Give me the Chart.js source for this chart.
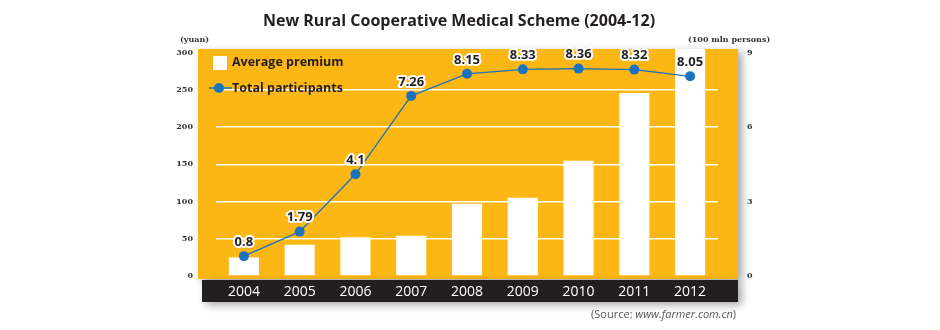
<!DOCTYPE html>
<html><head><meta charset="utf-8">
<script src="https://cdn.jsdelivr.net/npm/chart.js@4/dist/chart.umd.min.js"></script>
<style>html,body{margin:0;padding:0;background:#fff}#wrap{width:940px;height:330px}</style>
</head><body><div id="wrap"><canvas id="c" width="940" height="330"></canvas></div>
<script>
const titleText = 'New Rural Cooperative Medical Scheme (2004-12)';
const years = ['2004','2005','2006','2007','2008','2009','2010','2011','2012'];
const premium = [25, 42, 52, 54, 97, 105, 155, 246, 308];
const participants = [0.8, 1.79, 4.1, 7.26, 8.15, 8.33, 8.36, 8.32, 8.05];
const leftTicks = [0, 50, 100, 150, 200, 250, 300];
const rightTicks = [0, 3, 6, 9];
const leftUnit = '(yuan)';
const rightUnit = '(100 mln persons)';
const sourceParts = ['(Source: ', 'www.farmer.com.cn', ')'];
const seriesNames = ['Average premium', 'Total participants'];

const ORANGE = '#FDB714';
const BLUE = '#1B72BE';
const DARK = '#231F20';
const tickFont = {family: 'DejaVu Serif', size: 8, weight: 'bold'};

const panelPlugin = {
  id: 'panel',
  beforeDraw(chart) {
    const {ctx, chartArea: a} = chart;
    ctx.save();
    ctx.shadowColor = 'rgba(0,0,0,0.35)';
    ctx.shadowBlur = 8;
    ctx.shadowOffsetX = 4;
    ctx.shadowOffsetY = 3;
    ctx.fillStyle = ORANGE;
    ctx.fillRect(a.left - 18, a.top, a.right + 20 - (a.left - 18), a.bottom + 3 - a.top);
    ctx.fillStyle = '#231F20';
    ctx.fillRect(a.left - 14, a.bottom + 4, a.right + 20 - (a.left - 14), 22);
    ctx.restore();
  },
  afterDatasetsDraw(chart) {
    const {ctx, chartArea: a} = chart;
    const meta = chart.getDatasetMeta(1);
    ctx.save();
    ctx.font = 'bold 13px "Open Sans"';
    ctx.textAlign = 'center';
    ctx.textBaseline = 'middle';
    ctx.lineJoin = 'round';
    meta.data.forEach((pt, i) => {
      const t = String(participants[i]);
      ctx.strokeStyle = '#fff';
      ctx.lineWidth = 4;
      ctx.strokeText(t, pt.x, pt.y - 14);
      ctx.fillStyle = DARK;
      ctx.fillText(t, pt.x, pt.y - 14);
    });
    const lx = a.left - 3;
    ctx.fillStyle = '#fff';
    ctx.fillRect(lx, a.top + 7, 14, 14);
    ctx.font = 'bold 12.5px "Open Sans"';
    ctx.textAlign = 'left';
    ctx.fillStyle = DARK;
    ctx.fillText(seriesNames[0], a.left + 16, a.top + 13);
    ctx.strokeStyle = BLUE;
    ctx.lineWidth = 1.5;
    ctx.beginPath();
    ctx.moveTo(lx - 4, a.top + 39);
    ctx.lineTo(a.left + 16, a.top + 39);
    ctx.stroke();
    ctx.fillStyle = BLUE;
    ctx.beginPath();
    ctx.arc(lx + 6, a.top + 39, 5, 0, Math.PI * 2);
    ctx.fill();
    ctx.fillStyle = DARK;
    ctx.fillText(seriesNames[1], a.left + 16, a.top + 39);
    ctx.restore();
  },
  afterDraw(chart) {
    const {ctx, chartArea: a} = chart;
    ctx.save();
    ctx.font = 'bold 16px "Open Sans"';
    ctx.fillStyle = DARK;
    ctx.textAlign = 'center';
    ctx.textBaseline = 'middle';
    ctx.fillText(titleText, 459, 21);
    ctx.font = 'bold 8px "DejaVu Serif"';
    ctx.fillStyle = '#333';
    ctx.textAlign = 'left';
    ctx.fillText(leftUnit, 180, 40);
    ctx.fillText(rightUnit, 688, 40);
    ctx.font = '11px "Open Sans"';
    ctx.fillStyle = '#555';
    ctx.textAlign = 'right';
    let x = a.right + 18;
    ctx.fillText(sourceParts[2], x, 315);
    x -= ctx.measureText(sourceParts[2]).width;
    ctx.font = 'italic 11px "Open Sans"';
    ctx.fillText(sourceParts[1], x, 315);
    x -= ctx.measureText(sourceParts[1]).width;
    ctx.font = '11px "Open Sans"';
    ctx.fillText(sourceParts[0], x, 315);
    ctx.restore();
  }
};

new Chart(document.getElementById('c'), {
  data: {
    labels: years,
    datasets: [
      {type: 'bar', label: seriesNames[0], data: premium, yAxisID: 'y', backgroundColor: '#fff',
       barPercentage: 0.54, categoryPercentage: 1, order: 2},
      {type: 'line', label: seriesNames[1], data: participants, yAxisID: 'y1', borderColor: BLUE,
       borderWidth: 1.3, backgroundColor: BLUE, pointBackgroundColor: BLUE, pointBorderWidth: 0,
       pointRadius: 5, tension: 0, order: 1}
    ]
  },
  options: {
    responsive: false,
    devicePixelRatio: 1,
    animation: false,
    layout: {padding: {top: 49, left: 0, right: 0, bottom: 0}},
    plugins: {legend: {display: false}, tooltip: {enabled: false}, title: {display: false}},
    scales: {
      x: {
        type: 'category', offset: true,
        grid: {display: false, drawTicks: false}, border: {display: false},
        ticks: {color: '#fff', font: {family: 'Open Sans', size: 14}, padding: 8, maxRotation: 0},
        afterFit(s) { s.height = 54; }
      },
      y: {
        position: 'left', min: 0, max: 305,
        afterBuildTicks(s) { s.ticks = leftTicks.map(v => ({value: v})); },
        grid: {drawTicks: false, lineWidth: 1.5,
               color: c => (c.tick && (c.tick.value === 0 || c.tick.value === 300)) ? 'rgba(0,0,0,0)' : '#fff'},
        border: {display: false},
        ticks: {font: tickFont, color: '#333', padding: 23},
        afterFit(s) { s.width = 216; }
      },
      y1: {
        position: 'right', min: 0, max: 9 * 305 / 300,
        afterBuildTicks(s) { s.ticks = rightTicks.map(v => ({value: v})); },
        grid: {display: false, drawTicks: false},
        border: {display: false},
        ticks: {font: tickFont, color: '#333', padding: 29},
        afterFit(s) { s.width = 222; }
      }
    }
  },
  plugins: [panelPlugin]
});
</script>
</body></html>
